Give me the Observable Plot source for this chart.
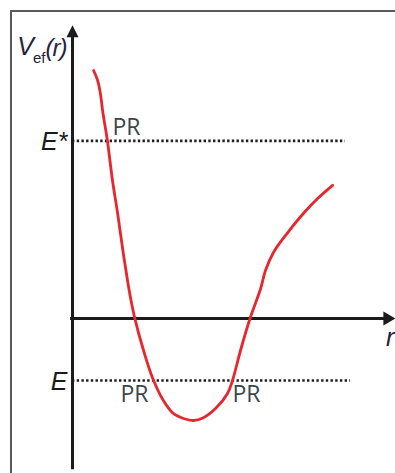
<!DOCTYPE html>
<html>
<head>
<meta charset="utf-8">
<script src="https://cdn.jsdelivr.net/npm/d3@7"></script>
<script src="https://cdn.jsdelivr.net/npm/@observablehq/plot@0.6"></script>
<style>
  html, body { margin: 0; padding: 0; background: #fff; }
  #wrap { position: relative; width: 395px; height: 473px; overflow: hidden; }
  #wrap svg { position: absolute; left: 0; top: 0; }
  #border {
    position: absolute; left: 10px; top: 10px; right: 0; bottom: 0;
    border-left: 2px solid #5a5a5a; border-top: 2px solid #5a5a5a;
    pointer-events: none;
  }
</style>
</head>
<body>
<div id="wrap"><div id="border"></div></div>
<script>
// Effective potential V_ef(r), sampled along the curve
const rValues = [0.66, 0.75, 0.81, 0.88, 0.94, 1.09, 1.25, 1.41, 1.56, 1.72, 1.81, 1.94,
  2.22, 2.50, 2.84, 3.16, 3.47, 3.78, 4.09, 4.47, 4.84, 5.00, 5.25, 5.56,
  5.88, 6.03, 6.28, 6.66, 7.22, 7.66, 8.13];
const vValues = [6.20, 6.03, 5.88, 5.58, 5.20, 4.45, 3.45, 2.63, 1.78, 0.95, 0.53, 0.03,
  -0.80, -1.48, -2.05, -2.38, -2.50, -2.55, -2.48, -2.25, -1.88, -1.55, -0.80, 0.03,
  0.75, 1.20, 1.65, 2.08, 2.63, 3.00, 3.33];

// Energy levels (dotted lines) and where each line stops
const levelNames = ["E*", "E"];
const levelValues = [4.44, -1.55];
const levelEnds = [8.53, 8.69];

// Turning points "PR" where the curve meets a level
const turnLabel = "PR";
const turnOnUpper = [1.09];
const turnOnLowerLeft = [2.56];
const turnOnLowerRight = [5.00];

// Extent of the drawn axes (arrow tips)
const axisR = [0, 10.09];
const axisV = [-3.78, 7.33];
const yTitle = ["V", "ef", "(r)"];
const xTitle = "r";

const curve = rValues.map((r, i) => ({r, v: vValues[i]}));
const levels = levelNames.map((name, i) => ({name, v: levelValues[i], end: levelEnds[i]}));

// Filled arrowheads with the tip at the anchor point
const arrowUp = {
  draw(ctx, size) {
    const s = Math.sqrt(size / Math.PI);
    ctx.moveTo(0, 0); ctx.lineTo(s, 2 * s); ctx.lineTo(-s, 2 * s); ctx.closePath();
  }
};
const arrowRight = {
  draw(ctx, size) {
    const s = Math.sqrt(size / Math.PI);
    ctx.moveTo(0, 0); ctx.lineTo(-2 * s, -1.15 * s); ctx.lineTo(-2 * s, 1.15 * s); ctx.closePath();
  }
};

const ink = "#1b1b1b";
const labelFont = "Liberation Sans, Arial, sans-serif";
const prFont = "Open Sans, sans-serif";
const prColor = "#3a4650";

const plot = Plot.plot({
  width: 395,
  height: 473,
  margin: 0,
  x: {domain: [0, 10], range: [72, 392], axis: null},
  y: {domain: [0, 5], range: [318, 118], axis: null},
  style: {background: "transparent", overflow: "visible"},
  marks: [
    Plot.ruleY(levels, {y: "v", x1: 0, x2: "end", stroke: "#1e1e1e", strokeWidth: 2.6, strokeDasharray: "2.4 2.3"}),
    Plot.ruleX([0], {y1: axisV[0], y2: axisV[1] - 0.2, stroke: ink, strokeWidth: 3}),
    Plot.ruleY([0], {x1: -0.06, x2: axisR[1] - 0.2, stroke: ink, strokeWidth: 3}),
    Plot.dot([{r: 0, v: axisV[1]}], {x: "r", y: "v", symbol: arrowUp, r: 6, fill: ink, stroke: "none"}),
    Plot.dot([{r: axisR[1], v: 0}], {x: "r", y: "v", symbol: arrowRight, r: 6, fill: ink, stroke: "none"}),
    Plot.line(curve, {x: "r", y: "v", curve: "catmull-rom", stroke: "#e8262d", strokeWidth: 2.8}),
    Plot.text(levels, {x: 0, y: "v", text: "name", textAnchor: "end", dx: -5, dy: 1, lineAnchor: "middle",
      fontFamily: labelFont, fontStyle: "italic", fontSize: 25, fill: ink}),
    Plot.text(turnOnUpper, {x: d => d, y: levelValues[0], text: () => turnLabel, textAnchor: "start", dx: 5, dy: -6,
      lineAnchor: "bottom", fontFamily: prFont, fontSize: 23, fill: prColor}),
    Plot.text(turnOnLowerLeft, {x: d => d, y: levelValues[1], text: () => turnLabel, textAnchor: "end", dx: -6, dy: 5,
      lineAnchor: "top", fontFamily: prFont, fontSize: 23, fill: prColor}),
    Plot.text(turnOnLowerRight, {x: d => d, y: levelValues[1], text: () => turnLabel, textAnchor: "start", dx: 0, dy: 5,
      lineAnchor: "top", fontFamily: prFont, fontSize: 23, fill: prColor}),
    Plot.text([xTitle], {x: axisR[1], y: 0, text: d => d, textAnchor: "end", dx: -1, dy: 27, lineAnchor: "bottom",
      fontFamily: labelFont, fontStyle: "italic", fontSize: 25, fill: "#22223a"}),
    Plot.text([yTitle.join("")], {x: 0, y: axisV[1], text: d => d, textAnchor: "end", dx: -6, dy: 30, lineAnchor: "bottom",
      fontFamily: labelFont, fontStyle: "italic", fontSize: 24, fill: "#24243c"})
  ]
});

// Set the y title as V with subscript "ef" followed by (r)
const titleNode = Array.from(plot.querySelectorAll("text")).find(t => t.textContent === yTitle.join(""));
if (titleNode) {
  titleNode.textContent = "";
  const ns = "http://www.w3.org/2000/svg";
  const parts = [
    {t: yTitle[0], size: 25, style: "italic", dx: 0, dy: 0, spacing: 0},
    {t: yTitle[1], size: 15, style: "normal", dx: -1, dy: 8, spacing: 0},
    {t: yTitle[2], size: 24, style: "italic", dx: 0, dy: -7, spacing: -1}
  ];
  for (const p of parts) {
    const ts = document.createElementNS(ns, "tspan");
    ts.textContent = p.t;
    ts.setAttribute("font-size", p.size);
    ts.setAttribute("font-style", p.style);
    if (p.spacing) ts.setAttribute("letter-spacing", p.spacing);
    if (p.dx) ts.setAttribute("dx", p.dx);
    if (p.dy) ts.setAttribute("dy", p.dy);
    titleNode.appendChild(ts);
  }
}

document.getElementById("wrap").prepend(plot);
</script>
</body>
</html>
